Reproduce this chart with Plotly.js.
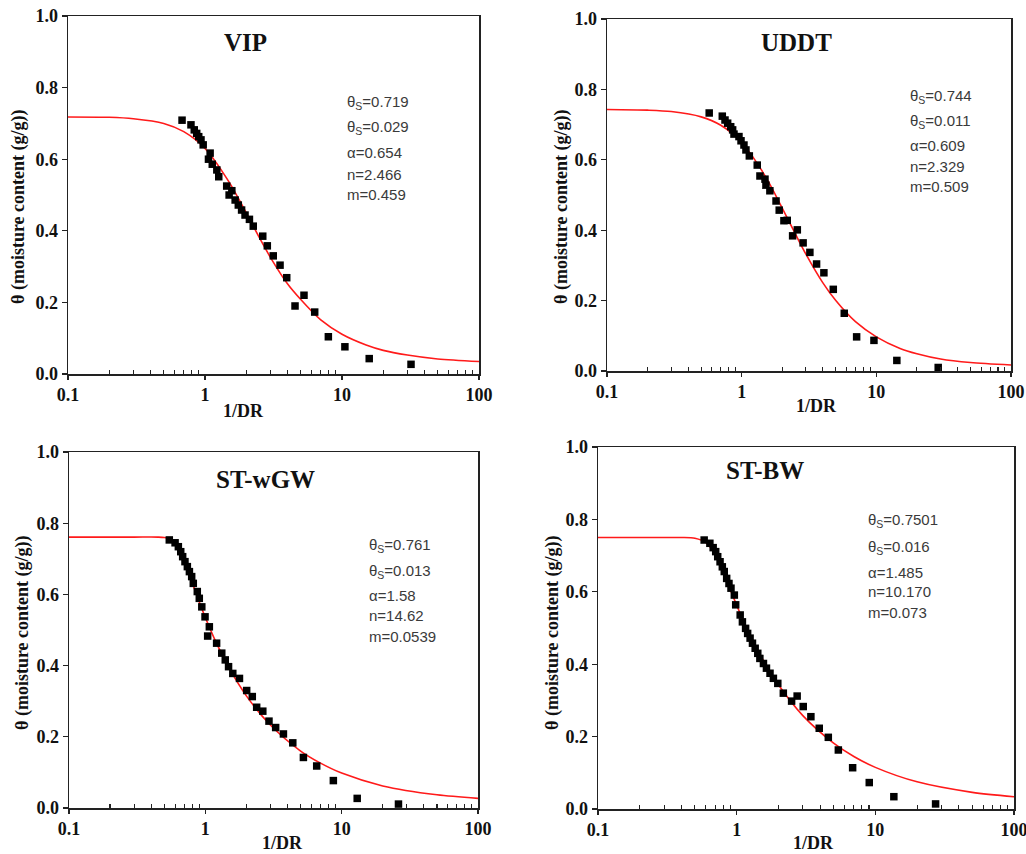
<!DOCTYPE html>
<html><head><meta charset="utf-8">
<script src="https://cdn.plot.ly/plotly-3.0.1.min.js"></script>
<style>html,body{margin:0;padding:0;background:#fff}#chart{width:1026px;height:854px}</style>
</head><body><div id="chart"></div>
<script>
// ---- data ----
const panelNames = ['VIP', 'UDDT', 'ST-wGW', 'ST-BW'];

const vipX = [0.68,0.79,0.835,0.87,0.90,0.935,0.97,1.09,1.06,1.13,1.22,1.26,1.44,1.57,1.50,1.66,1.75,1.85,1.96,2.11,2.25,2.64,2.85,3.15,3.53,3.95,4.54,5.28,6.32,7.95,10.5,15.8,31.9];
const vipY = [0.709,0.696,0.682,0.672,0.663,0.654,0.640,0.617,0.600,0.586,0.570,0.551,0.525,0.512,0.500,0.486,0.472,0.458,0.444,0.432,0.413,0.385,0.358,0.330,0.304,0.269,0.190,0.220,0.173,0.104,0.076,0.043,0.027];
const vipFitX = [0.1,0.2,0.3,0.5,0.7,1,1.5,2,2.5,3,4,5,7,10,15,20,30,50,100];
const vipFitY = [0.718,0.717,0.713,0.700,0.677,0.630,0.536,0.450,0.380,0.326,0.252,0.208,0.151,0.111,0.081,0.066,0.053,0.042,0.035];

const uddtX = [0.574,0.718,0.752,0.787,0.829,0.857,0.877,0.955,0.989,1.04,1.076,1.14,1.305,1.367,1.49,1.515,1.62,1.80,1.90,2.06,2.18,2.59,2.39,2.86,3.21,3.60,4.08,4.79,5.78,7.14,9.6,14.2,28.8];
const uddtY = [0.733,0.724,0.713,0.704,0.694,0.685,0.673,0.666,0.654,0.642,0.628,0.611,0.585,0.554,0.545,0.528,0.512,0.483,0.457,0.427,0.428,0.401,0.384,0.364,0.337,0.304,0.279,0.232,0.164,0.097,0.087,0.030,0.010];
const uddtFitX = [0.1,0.2,0.3,0.5,0.7,1,1.5,2,2.5,3,4,5,7,10,15,20,30,50,100];
const uddtFitY = [0.743,0.741,0.737,0.722,0.698,0.649,0.553,0.463,0.390,0.332,0.251,0.200,0.140,0.097,0.064,0.049,0.034,0.024,0.017];

const wgwX = [0.544,0.600,0.634,0.660,0.682,0.709,0.738,0.764,0.794,0.816,0.873,0.903,0.942,0.995,1.07,1.04,1.21,1.32,1.40,1.48,1.59,1.78,2.01,2.21,2.38,2.64,2.93,3.28,3.74,4.38,5.24,6.56,8.69,13.0,26.1];
const wgwY = [0.753,0.745,0.734,0.720,0.706,0.692,0.678,0.664,0.650,0.631,0.608,0.589,0.565,0.537,0.509,0.483,0.463,0.435,0.416,0.397,0.378,0.364,0.330,0.313,0.283,0.272,0.244,0.226,0.208,0.183,0.142,0.118,0.077,0.027,0.011];
const wgwFitX = [0.1,0.3,0.45,0.5,0.55,0.6,0.65,0.7,0.75,0.8,0.9,1,1.2,1.5,2,3,5,7,10,20,50,100];
const wgwFitY = [0.761,0.761,0.761,0.760,0.756,0.746,0.725,0.696,0.665,0.634,0.580,0.535,0.465,0.392,0.315,0.233,0.160,0.126,0.098,0.062,0.037,0.027];

const bwX = [0.583,0.641,0.677,0.706,0.730,0.759,0.788,0.814,0.847,0.880,0.910,0.962,0.984,1.06,1.10,1.16,1.20,1.25,1.30,1.36,1.42,1.47,1.56,1.64,1.74,1.84,1.98,2.17,2.49,2.73,3.02,3.43,3.94,4.58,5.41,6.86,9.04,13.6,27.2];
const bwY = [0.743,0.734,0.722,0.711,0.697,0.683,0.669,0.656,0.637,0.623,0.610,0.591,0.564,0.536,0.517,0.499,0.485,0.472,0.458,0.444,0.430,0.416,0.402,0.389,0.375,0.361,0.347,0.320,0.298,0.312,0.283,0.255,0.223,0.198,0.163,0.114,0.073,0.034,0.014];
const bwFitX = [0.1,0.3,0.4,0.5,0.6,0.7,0.8,0.9,1,1.2,1.5,2,3,5,7,10,20,50,100];
const bwFitY = [0.750,0.750,0.750,0.748,0.736,0.703,0.655,0.606,0.563,0.494,0.421,0.343,0.258,0.182,0.145,0.115,0.075,0.046,0.034];

const vipParams  = ['θ<sub>S</sub>=0.719','θ<sub>S</sub>=0.029','α=0.654','n=2.466','m=0.459'];
const uddtParams = ['θ<sub>S</sub>=0.744','θ<sub>S</sub>=0.011','α=0.609','n=2.329','m=0.509'];
const wgwParams  = ['θ<sub>S</sub>=0.761','θ<sub>S</sub>=0.013','α=1.58','n=14.62','m=0.0539'];
const bwParams   = ['θ<sub>S</sub>=0.7501','θ<sub>S</sub>=0.016','α=1.485','n=10.170','m=0.073'];

const xTickVals = [0.1, 1, 10, 100];
const xTickText = ['0.1', '1', '10', '100'];
const xMinorVals = [0.2,0.3,0.4,0.5,0.6,0.7,0.8,0.9,2,3,4,5,6,7,8,9,20,30,40,50,60,70,80,90];
const xTitle = '1/DR';
const yTitle = 'θ (moisture content (g/g))';

// ---- layout geometry (pixels) ----
const W = 1026, H = 854;
const boxes = [
  {l:68, r:479, t:16, b:374},
  {l:607, r:1011, t:19, b:371},
  {l:69, r:478, t:452, b:808},
  {l:598, r:1014, t:447, b:809}
];
const titlePos = [[245,42],[796,42],[265,480],[765,471]];
const paramPos = [
  {x:345, ys:[102,128,153,174,194]},
  {x:908, ys:[96,122,146,166,186]},
  {x:367, ys:[545,571,595,615,636]},
  {x:866, ys:[520,547,572,591,612]}
];
const xTitlePos = [[243,411],[816,406],[282,843],[813,843]];
const yTitlePos = [[19,207],[562,207],[22,633],[552,633]];

const series = [
  {x:vipX, y:vipY, fx:vipFitX, fy:vipFitY, p:vipParams},
  {x:uddtX, y:uddtY, fx:uddtFitX, fy:uddtFitY, p:uddtParams},
  {x:wgwX, y:wgwY, fx:wgwFitX, fy:wgwFitY, p:wgwParams},
  {x:bwX, y:bwY, fx:bwFitX, fy:bwFitY, p:bwParams}
];

const serif = 'Liberation Serif, Times New Roman, serif';
const sans = 'Liberation Sans, Arial, sans-serif';
const px2x = v => v / W;
const px2y = v => 1 - v / H;

const traces = [];
const layout = {
  width: W, height: H,
  margin: {l:0, r:0, t:0, b:0},
  paper_bgcolor: '#fff', plot_bgcolor: '#fff',
  showlegend: false,
  annotations: []
};

series.forEach((s, i) => {
  const k = i === 0 ? '' : String(i + 1);
  const xa = 'x' + k, ya = 'y' + k;
  traces.push({
    x: s.fx, y: s.fy, xaxis: xa, yaxis: ya, type: 'scatter', mode: 'lines',
    line: {color: '#ff1a1a', width: 1.6, shape: 'spline', smoothing: 0.8},
    hoverinfo: 'skip'
  });
  traces.push({
    x: s.x, y: s.y, xaxis: xa, yaxis: ya, type: 'scatter', mode: 'markers',
    marker: {symbol: 'square', size: 7.5, color: '#000'}
  });
  const b = boxes[i];
  layout['xaxis' + k] = {
    type: 'log', range: [-1, 2], domain: [px2x(b.l), px2x(b.r)], anchor: ya,
    tickmode: 'array', tickvals: xTickVals, ticktext: xTickText,
    ticks: 'outside', ticklen: 4, tickwidth: 1.3, tickcolor: '#222',
    showline: true, linecolor: '#222', linewidth: 1.5, mirror: true,
    showgrid: false, zeroline: false, automargin: false, ticklabeloverflow: 'allow',
    tickfont: {family: serif, size: 18, color: '#111', weight: 'bold'},
    minor: {tickmode: 'array', tickvals: xMinorVals, ticks: 'inside', ticklen: 4, tickwidth: 1.1, tickcolor: '#222', showgrid: false}
  };
  layout['yaxis' + k] = {
    range: [0, 1], domain: [px2y(b.b), px2y(b.t)], anchor: xa,
    tickmode: 'linear', tick0: 0, dtick: 0.2, tickformat: '.1f',
    ticks: 'outside', ticklen: 5, tickwidth: 1.3, tickcolor: '#222',
    showline: true, linecolor: '#222', linewidth: 1.5, mirror: true,
    showgrid: false, zeroline: false, automargin: false, ticklabeloverflow: 'allow',
    tickfont: {family: serif, size: 18, color: '#111', weight: 'bold'}
  };
  layout.annotations.push({
    xref: 'paper', yref: 'paper', x: px2x(titlePos[i][0]), y: px2y(titlePos[i][1]),
    xanchor: 'center', yanchor: 'middle', showarrow: false, text: panelNames[i],
    font: {family: serif, size: 25, color: '#111', weight: 'bold'}
  });
  s.p.forEach((t, j) => {
    layout.annotations.push({
      xref: 'paper', yref: 'paper', x: px2x(paramPos[i].x), y: px2y(paramPos[i].ys[j]),
      xanchor: 'left', yanchor: 'middle', showarrow: false, text: t,
      font: {family: sans, size: 15, color: '#3a3a3a'}
    });
  });
  layout.annotations.push({
    xref: 'paper', yref: 'paper', x: px2x(xTitlePos[i][0]), y: px2y(xTitlePos[i][1]),
    xanchor: 'center', yanchor: 'middle', showarrow: false, text: xTitle,
    font: {family: serif, size: 18, color: '#111', weight: 'bold'}
  });
  layout.annotations.push({
    xref: 'paper', yref: 'paper', x: px2x(yTitlePos[i][0]), y: px2y(yTitlePos[i][1]),
    xanchor: 'center', yanchor: 'middle', showarrow: false, text: yTitle, textangle: -90,
    font: {family: serif, size: 18, color: '#111', weight: 'bold'}
  });
});

Plotly.newPlot('chart', traces, layout, {displayModeBar: false, staticPlot: true});
</script>
</body></html>
